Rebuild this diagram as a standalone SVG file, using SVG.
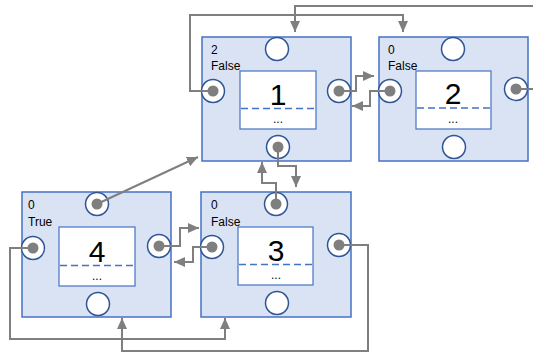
<svg xmlns="http://www.w3.org/2000/svg" width="533" height="353" viewBox="0 0 533 353">
  <style>
    .box { fill: #dae3f3; stroke: #4472c4; stroke-width: 1.5; }
    .inner { fill: #ffffff; stroke: #4472c4; stroke-width: 1.2; }
    .split { stroke: #4472c4; stroke-width: 1.6; stroke-dasharray: 7 4; fill: none; }
    .port { fill: #ffffff; stroke: #2f5597; stroke-width: 1.5; }
    .dot { fill: #7f7f7f; }
    .lbl { font-family: "Liberation Sans", Arial, sans-serif; font-size: 12px; fill: #000000; }
    .num { font-family: "Liberation Sans", Arial, sans-serif; font-size: 30px; fill: #000000; text-anchor: middle; }
    .more { font-family: "Liberation Sans", Arial, sans-serif; font-size: 12px; fill: #000000; text-anchor: middle; }
    .link { fill: none; stroke: #7f7f7f; stroke-width: 2; }
  </style>
  <defs>
    <marker id="arrow" markerUnits="userSpaceOnUse" markerWidth="11" markerHeight="10" refX="11" refY="5" orient="auto">
      <path d="M0,0 L11,5 L0,10 z" fill="#7f7f7f"/>
    </marker>
  </defs>

  <rect width="533" height="353" fill="#ffffff"/>

  <!-- node 1 -->
  <g id="node1">
    <rect class="box" x="202" y="37" width="149" height="124"/>
    <text class="lbl" x="211" y="53.5">2</text>
    <text class="lbl" x="211" y="70">False</text>
    <circle class="port" cx="277" cy="49" r="11.5"/>
    <circle class="port" cx="213" cy="91" r="11.5"/>
    <circle class="port" cx="339" cy="91" r="11.5"/>
    <circle class="port" cx="278" cy="147" r="11.5"/>
    <circle class="dot" cx="213" cy="91" r="5.5"/>
    <circle class="dot" cx="339" cy="91" r="5.5"/>
    <circle class="dot" cx="278" cy="147" r="5.5"/>
    <rect class="inner" x="240" y="71" width="76" height="58"/>
    <text class="num" x="278" y="105">1</text>
    <line class="split" x1="241" y1="108.5" x2="315" y2="108.5"/>
    <text class="more" x="278" y="123">...</text>
  </g>

  <!-- node 2 -->
  <g id="node2">
    <rect class="box" x="379" y="37" width="149" height="124"/>
    <text class="lbl" x="388" y="53.5">0</text>
    <text class="lbl" x="388" y="70">False</text>
    <circle class="port" cx="453" cy="49" r="11.5"/>
    <circle class="port" cx="390" cy="91" r="11.5"/>
    <circle class="port" cx="516" cy="89" r="11.5"/>
    <circle class="port" cx="454" cy="147" r="11.5"/>
    <circle class="dot" cx="390" cy="91" r="5.5"/>
    <circle class="dot" cx="516" cy="89" r="5.5"/>
    <rect class="inner" x="416" y="71" width="75" height="58"/>
    <text class="num" x="453" y="104">2</text>
    <line class="split" x1="417" y1="108" x2="490" y2="108"/>
    <text class="more" x="453" y="123">...</text>
  </g>

  <!-- node 4 -->
  <g id="node4">
    <rect class="box" x="22" y="192" width="149" height="125"/>
    <text class="lbl" x="28" y="208.5">0</text>
    <text class="lbl" x="28" y="226">True</text>
    <circle class="port" cx="97" cy="204" r="11.5"/>
    <circle class="port" cx="33" cy="248" r="11.5"/>
    <circle class="port" cx="159" cy="246" r="11.5"/>
    <circle class="port" cx="98" cy="304" r="11.5"/>
    <circle class="dot" cx="97" cy="204" r="5.5"/>
    <circle class="dot" cx="33" cy="248" r="5.5"/>
    <circle class="dot" cx="159" cy="246" r="5.5"/>
    <rect class="inner" x="59" y="227" width="76" height="59"/>
    <text class="num" x="97" y="262">4</text>
    <line class="split" x1="60" y1="265.5" x2="134" y2="265.5"/>
    <text class="more" x="97" y="280">...</text>
  </g>

  <!-- node 3 -->
  <g id="node3">
    <rect class="box" x="201" y="192" width="150" height="125"/>
    <text class="lbl" x="211" y="208.5">0</text>
    <text class="lbl" x="211" y="226">False</text>
    <circle class="port" cx="276" cy="204" r="11.5"/>
    <circle class="port" cx="212" cy="247" r="11.5"/>
    <circle class="port" cx="339" cy="245" r="11.5"/>
    <circle class="port" cx="277" cy="303" r="11.5"/>
    <circle class="dot" cx="276" cy="204" r="5.5"/>
    <circle class="dot" cx="212" cy="247" r="5.5"/>
    <circle class="dot" cx="339" cy="245" r="5.5"/>
    <rect class="inner" x="238" y="227" width="75" height="58"/>
    <text class="num" x="276" y="261">3</text>
    <line class="split" x1="239" y1="264.5" x2="312" y2="264.5"/>
    <text class="more" x="276" y="279">...</text>
  </g>

  <!-- connectors -->
  <g id="connectors">
    <path class="link" d="M213,91 H190 V15 H403 V32" marker-end="url(#arrow)"/>
    <path class="link" d="M533,6 H295 V32" marker-end="url(#arrow)"/>
    <path class="link" d="M516,89 H533"/>
    <path class="link" d="M339,91 H356 V76 H374" marker-end="url(#arrow)"/>
    <path class="link" d="M390,91 H370 V106 H352" marker-end="url(#arrow)"/>
    <path class="link" d="M278,147 V166 H296 V187" marker-end="url(#arrow)"/>
    <path class="link" d="M276,204 V183 H262 V162" marker-end="url(#arrow)"/>
    <path class="link" d="M97,204 L198,157" marker-end="url(#arrow)"/>
    <path class="link" d="M159,246 H180 V228 H199" marker-end="url(#arrow)"/>
    <path class="link" d="M212,247 H193 V262 H174" marker-end="url(#arrow)"/>
    <path class="link" d="M33,248 H10 V339 H225 V318" marker-end="url(#arrow)"/>
    <path class="link" d="M339,245 H368 V351 H122 V318" marker-end="url(#arrow)"/>
  </g>
</svg>
